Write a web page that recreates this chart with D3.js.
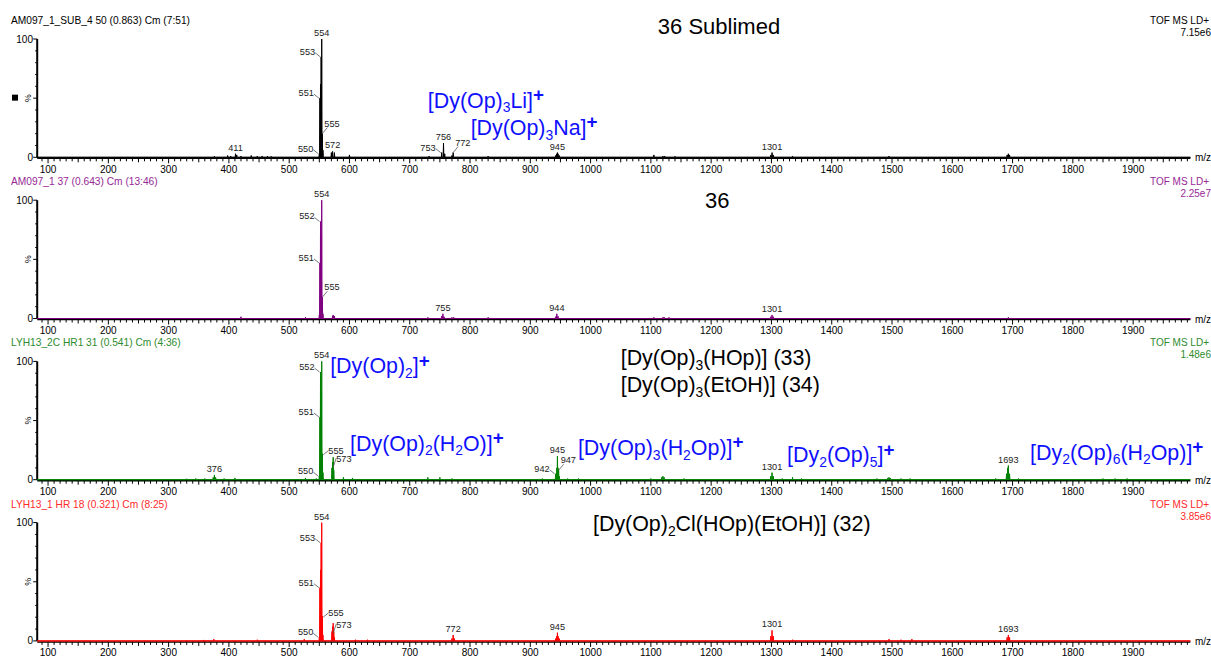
<!DOCTYPE html>
<html><head><meta charset="utf-8">
<script src="https://cdn.jsdelivr.net/npm/d3@7"></script>
<style>
body{margin:0;background:#fff;}
svg{display:block;font-family:Arial,"Liberation Sans",sans-serif;}
</style>
</head><body>
<svg id="chart" width="1211" height="657"></svg>
<script>
// ---------------- DATA ----------------
const mzTickLabels = [100,200,300,400,500,600,700,800,900,1000,1100,1200,1300,1400,1500,1600,1700,1800,1900];
const intensityTicks = [0, 50, 100];
const runHeaders = [
  "AM097_1_SUB_4 50 (0.863) Cm (7:51)",
  "AM097_1 37 (0.643) Cm (13:46)",
  "LYH13_2C HR1 31 (0.541) Cm (4:36)",
  "LYH13_1 HR 18 (0.321) Cm (8:25)"
];
const scanModes = ["TOF MS LD+","TOF MS LD+","TOF MS LD+","TOF MS LD+"];
const baseIntensities = ["7.15e6","2.25e7","1.48e6","3.85e6"];

// [m/z, relative intensity %]
const peaksSublimed = [[376,0.8],[398,1.5],[403,1],[411,3],[413,2],[420,1],[437,1.5],[447,1],[455,1],[464,1],[470,0.8],
  [550,3],[551,50],[552,62],[553,85],[554,100],[555,20],[556,6],[570,4],[572,5],[575,4],[600,2],[732,1],
  [753,4],[756,12],[758,3],[770,1.5],[772,4],[830,1],[942,1.5],[944,3],[945,4],[946,3],[948,1.5],
  [1105,2],[1120,1],[1123,1],[1140,0.8],[1299,2],[1301,4],[1303,2],[1335,1],[1495,1],[1691,2],[1693,3],[1695,2]];
const peaks36 = [[420,1.5],[527,1],[550,3],[551,47],[552,82],[553,70],[554,100],[555,18],[556,4],[572,2],[573,3],[575,2],
  [730,1],[753,2],[755,4],[757,1.5],[770,1],[773,1],[830,1],[942,1.5],[944,4],[946,2],[1105,1],[1120,1],[1122,1],[1130,1],
  [1299,1.5],[1301,3],[1303,1.5],[1693,1]];
const peaks3334 = [[330,0.8],[345,1],[360,1],[374,2],[376,4],[378,2],[392,1],[410,1.5],[527,1.5],[545,1],
  [550,3],[551,53],[552,91],[553,70],[554,100],[555,22],[556,6],[571,10],[572,15],[573,19],[574,8],[590,2],[605,1.5],
  [730,2],[750,2],[770,1],[920,1],[942,5],[943,4],[944,10],[945,20],[946,10],[947,8],[948,3],[962,1],[980,1],
  [1100,1],[1118,2],[1120,3],[1122,2],[1155,1],[1299,3],[1301,6],[1303,3],[1318,1],[1335,2],[1350,1],
  [1475,1],[1493,1.5],[1495,2],[1497,1.5],[1515,1],[1530,1],[1672,1],[1690,5],[1692,10],[1693,12],[1695,5],[1710,1],
  [1850,1],[1870,1],[1890,1]];
const peaks32 = [[330,0.5],[358,0.8],[375,1.5],[447,1],[525,1.5],[550,3],[551,45],[552,60],[553,83],[554,100],[555,21],[556,5],
  [571,8],[572,12],[573,15],[574,8],[575,3],[610,1],[630,1],[770,2],[772,5],[774,2],[942,2],[944,4],[945,7],[946,4],[948,2],
  [1299,4],[1301,9],[1303,4],[1335,1],[1495,1.5],[1515,1],[1533,1.5],[1691,3],[1693,5],[1695,3]];

// labelled peaks: [m/z, side]
const labelsSublimed = [[411,"top"],[550,"left"],[551,"left"],[553,"left"],[554,"top"],[555,"right"],[572,"top"],[753,"left"],[756,"top"],[772,"right"],[945,"top"],[1301,"top"]];
const labels36 = [[551,"left"],[552,"left"],[554,"top"],[555,"right"],[755,"top"],[944,"top"],[1301,"top"]];
const labels3334 = [[376,"top"],[550,"left"],[551,"left"],[552,"left"],[554,"top"],[555,"rightmid"],[573,"rightlow"],[942,"left"],[945,"top"],[947,"right"],[1301,"top"],[1693,"top"]];
const labels32 = [[550,"left"],[551,"left"],[553,"left"],[554,"top"],[555,"rightmid"],[573,"rightlow"],[772,"top"],[945,"top"],[1301,"top"],[1693,"top"]];

// annotations: [text, m/z, intensity %, kind]   (_x subscript, ^x superscript)
const notesSublimed = [["36 Sublimed",1213,104,"title"],["[Dy(Op)_3Li]^+",730,42,"ion"],["[Dy(Op)_3Na]^+",801,19,"ion"]];
const notes36 = [["36",1210,93,"title"]];
const notes3334 = [["[Dy(Op)_3(HOp)] (33)",1050,97,"compound"],["[Dy(Op)_3(EtOH)] (34)",1050,74,"compound"],
  ["[Dy(Op)_2]^+",568,90,"ion"],["[Dy(Op)_2(H_2O)]^+",601,24.5,"ion"],["[Dy(Op)_3(H_2Op)]^+",979,21,"ion"],
  ["[Dy_2(Op)_5]^+",1326,15,"ion"],["[Dy_2(Op)_6(H_2Op)]^+",1729,17,"ion"]];
const notes32 = [["[Dy(Op)_2Cl(HOp)(EtOH)] (32)",1004,93,"compound"]];

const spectra = [
  {peaks: peaksSublimed, labels: labelsSublimed, notes: notesSublimed},
  {peaks: peaks36, labels: labels36, notes: notes36},
  {peaks: peaks3334, labels: labels3334, notes: notes3334},
  {peaks: peaks32, labels: labels32, notes: notes32}
];

// ---------------- STYLE / LAYOUT ----------------
const lineColors = ["#000000","#800080","#008000","#ff0000"];
const headerColors = ["#000000","#962896","#2e8b2e","#ff2a2a"];
const panelTop0 = 39, panelStep = 161.2, panelH = 118.3;
const svg = d3.select("#chart");
const x = d3.scaleLinear().domain([82, 1995]).range([37.2, 1190.4]);

function rich(sel, str, size) {
  let i = 0, mode = "n";
  const subDy = size*0.22, supDy = size*0.3;
  while (i < str.length) {
    const c = str[i];
    if (c === "_" || c === "^") {
      const ch = str[i+1];
      if (c === "_") {
        sel.append("tspan").attr("font-size", size*0.65).attr("dy", subDy).text(ch);
        mode = "sub";
      } else {
        sel.append("tspan").attr("font-size", size*0.88).attr("font-weight","bold").attr("dy", -supDy).text(ch);
        mode = "sup";
      }
      i += 2;
    } else {
      let j = i, s = "";
      while (j < str.length && str[j] !== "_" && str[j] !== "^") { s += str[j]; j++; }
      const t = sel.append("tspan").attr("font-size", size).text(s);
      if (mode === "sub") t.attr("dy", -subDy);
      if (mode === "sup") t.attr("dy", supDy);
      mode = "n";
      i = j;
    }
  }
}

spectra.forEach((sp, i) => {
  const top = panelTop0 + i*panelStep;
  const y0 = top + panelH;
  const y = d3.scaleLinear().domain([0, 100]).range([y0, top]);
  const g = svg.append("g");
  const col = lineColors[i];

  // headers
  g.append("text").attr("x", 11).attr("y", top - 15).attr("font-size", 10.2).attr("fill", headerColors[i]).text(runHeaders[i]);
  g.append("text").attr("x", 1209).attr("y", top - 15).attr("font-size", 10).attr("text-anchor","end").attr("fill", headerColors[i]).text(scanModes[i]);
  g.append("text").attr("x", 1211).attr("y", top - 3).attr("font-size", 10).attr("text-anchor","end").attr("fill", headerColors[i]).text(baseIntensities[i]);

  // y axis
  g.append("line").attr("x1", x(82)).attr("x2", x(82)).attr("y1", y(100)).attr("y2", y(0)).attr("stroke","#000").attr("stroke-width",2);
  d3.range(0, 101, 10).forEach(v => {
    const major = intensityTicks.includes(v);
    g.append("line").attr("x1", x(82) - (major?4:2)).attr("x2", x(82)).attr("y1", y(v)).attr("y2", y(v)).attr("stroke","#000").attr("stroke-width",1);
  });
  [0,100].forEach(v => g.append("text").attr("x", 33).attr("y", y(v)+3.5).attr("font-size",10).attr("text-anchor","end").text(v));
  g.append("text").attr("transform",`translate(31,${y(50)}) rotate(-90)`).attr("font-size",9).attr("text-anchor","middle").text("%");
  if (i === 0) g.append("rect").attr("x", 12).attr("y", y(50)-3.5).attr("width",6).attr("height",6).attr("fill","#000");

  // x axis
  g.append("line").attr("x1", x(82)).attr("x2", x(1995)).attr("y1", y0+1).attr("y2", y0+1).attr("stroke","#000").attr("stroke-width",1.5);
  d3.range(90, 1995, 10).forEach(v => {
    const len = v % 100 === 0 ? 5 : (v % 50 === 0 ? 4 : 3);
    g.append("line").attr("x1", x(v)).attr("x2", x(v)).attr("y1", y0+1).attr("y2", y0+1+len).attr("stroke","#000").attr("stroke-width",1);
  });
  mzTickLabels.forEach(v => g.append("text").attr("x", x(v)).attr("y", y0+15.3).attr("font-size",10).attr("text-anchor","middle").text(v));
  g.append("text").attr("x", 1195).attr("y", y0+4).attr("font-size",10).text("m/z");

  // spectrum
  const w = 0.6;
  const pts = [[82, 0]];
  sp.peaks.slice().sort((a,b)=>a[0]-b[0]).forEach(([m,h]) => { pts.push([m-w,0],[m,h],[m+w,0]); });
  pts.push([1995, 0]);
  const area = d3.area().x(d=>x(d[0])).y0(y(0)).y1(d=>y(d[1]));
  g.append("path").attr("d", area(pts)).attr("fill", col).attr("stroke", col).attr("stroke-width",1).attr("stroke-linejoin","round");

  // peak labels
  const lookup = new Map(sp.peaks.map(d=>[d[0], d[1]]));
  sp.labels.forEach(([m, side]) => {
    const px = x(m), py = y(lookup.get(m));
    const lab = (tx, ty, anchor) => g.append("text").attr("x", tx).attr("y", ty).attr("font-size",9.2)
      .attr("text-anchor", anchor).attr("fill","#222").text(m);
    const lead = (x1,y1,x2,y2) => g.append("line").attr("x1",x1).attr("y1",y1).attr("x2",x2).attr("y2",y2).attr("stroke","#555").attr("stroke-width",0.8);
    if (side === "top") {
      lab(px, py-3, "middle");
    } else if (side === "left") {
      lead(px-6, py-4, px-1, py);
      lab(px-6, py-2, "end");
    } else if (side === "right") {
      lead(px, py, px+5, py-6);
      lab(px+2, py-7, "start");
    } else if (side === "rightmid") {
      lead(px+1, py+1, px+6, py-3);
      lab(px+6, py, "start");
    } else { // rightlow
      lead(px, py+10, px+3, py+1);
      lab(px+3, py+5, "start");
    }
  });

  // annotations
  sp.notes.forEach(([txt, m, p, kind]) => {
    const t = g.append("text").attr("x", x(m)).attr("y", y(p))
      .attr("fill", kind === "ion" ? "#1010ff" : "#000")
      .attr("text-anchor", kind === "title" ? "middle" : "start");
    rich(t, txt, kind === "title" ? 22 : 21.4);
  });
});
</script>
</body></html>
